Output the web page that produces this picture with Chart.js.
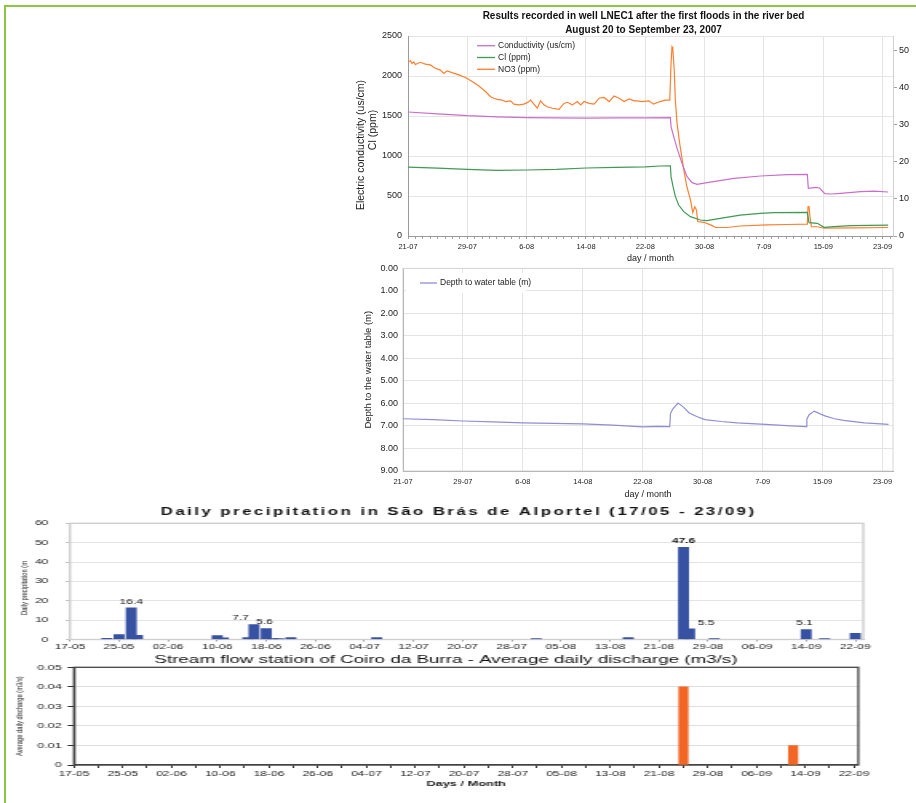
<!DOCTYPE html>
<html>
<head>
<meta charset="utf-8">
<script src="https://cdn.jsdelivr.net/npm/chart.js@4.4.1/dist/chart.umd.min.js"></script>
<style>
  html, body { margin: 0; padding: 0; background: #ffffff; width: 916px; height: 803px; overflow: hidden; position: relative; }
  #frame { position: absolute; left: 4px; top: 5px; width: 930px; height: 820px; border-top: 2px solid #8dc63f; border-left: 2px solid #8dc63f; }
  canvas { position: absolute; }
  #c1 { left: 340px; top: 0px; }
  #c2 { left: 340px; top: 258px; }
  #c3 { left: 8px; top: 495px; }
  #c4 { left: 8px; top: 650px; }
</style>
</head>
<body>
<div id="frame"></div>
<canvas id="c1" width="576" height="270"></canvas>
<canvas id="c2" width="576" height="245"></canvas>
<canvas id="c3" width="568" height="160" style="width:908px;height:160px"></canvas>
<canvas id="c4" width="568" height="150" style="width:908px;height:150px"></canvas>
<script>
// ---------------- DATA ----------------
// Well LNEC1 charts: x = days after 21-07-2007
const wellTickLabels = ['21-07', '29-07', '6-08', '14-08', '22-08', '30-08', '7-09', '15-09', '23-09'];

const condDays   = [0, 4, 8, 12, 16, 20, 24, 28, 32, 35.38, 35.47, 35.83, 36.28, 36.95, 37.63, 38.31, 38.98, 40.33, 43.94, 47.54, 51.14, 53.85, 53.98, 54.9, 55.5, 56.2, 57.0, 58.35, 61.05, 62.86, 64.75];
const condValues = [1550, 1527, 1504, 1490, 1480, 1476, 1474, 1476, 1477, 1480, 1367, 1242, 1096, 908, 742, 667, 646, 667, 721, 750, 767, 771, 596, 608, 600, 530, 525, 533, 554, 562, 550];

const clDays   = [0, 4, 8, 12, 16, 20, 24, 28, 32, 34, 35.38, 35.47, 35.74, 36.06, 36.5, 37.18, 38.08, 39.4, 40.3, 42.1, 44.8, 47.5, 49.3, 53.85, 54.07, 55.2, 56.1, 57.4, 59.7, 64.75];
const clValues = [862, 848, 833, 820, 825, 833, 850, 858, 865, 875, 877, 742, 617, 492, 387, 304, 242, 200, 192, 221, 262, 283, 292, 296, 167, 158, 108, 117, 129, 137];

const no3Days = [0, 0.32, 0.54, 0.77, 0.99, 1.67, 2.34, 3.02, 3.69, 4.37, 4.82, 5.27, 5.95, 6.85, 7.75, 8.65, 9.55, 10.45, 11.13, 11.58,
  12.03, 12.7, 13.15, 13.83, 14.28, 14.95, 15.63, 16.08, 16.53, 16.98, 17.43, 17.88, 18.33, 18.78, 19.46, 20.36, 21.04, 21.49, 22.16, 22.84,
  23.29, 23.74, 24.41, 25.09, 25.77, 26.44, 27.12, 27.79, 28.47, 29.14, 29.82, 30.5, 30.9, 31.5, 32.5, 33.1, 34.0, 34.7, 35.3, 35.47,
  35.6, 35.7, 35.9, 36.05, 36.28, 36.7, 37.2, 37.6, 38.1, 38.4, 38.67, 38.9, 39.07, 39.9, 40.8, 41.5, 43.0, 44.8, 48.4, 51.1,
  53.85, 53.94, 54.07, 54.2, 54.4, 55.2, 56.1, 60.2, 64.75];
const no3Values = [47.0, 47.3, 46.6, 47.0, 46.3, 46.9, 46.4, 46.2, 45.3, 44.8, 43.9, 44.6, 44.1, 43.5, 42.8, 41.7, 40.5, 39.0, 37.6, 37.2,
  36.9, 36.7, 36.3, 36.5, 35.6, 35.4, 35.6, 36.0, 36.7, 35.6, 34.5, 36.5, 35.4, 34.9, 34.5, 34.2, 35.8, 36.1, 35.4, 36.3,
  35.4, 36.3, 35.8, 35.6, 37.2, 37.4, 36.3, 37.8, 37.2, 36.3, 37.0, 36.5, 36.5, 36.3, 36.5, 35.6, 36.3, 36.7, 36.7, 46.6,
  51.1, 50.7, 44.8, 36.7, 30.4, 24.1, 17.8, 13.3, 9.7, 6.3, 7.9, 7.0, 3.9, 3.7, 3.0, 2.3, 2.3, 2.7, 3.0, 3.1,
  3.2, 7.9, 8.1, 5.2, 2.5, 2.5, 2.1, 2.2, 2.3];

const depthDays   = [0, 4, 8, 12, 16, 20, 24, 28, 32, 34, 35.6, 35.7, 36.0, 36.7, 37.4, 38.2, 39.2, 40.3, 42.5, 44.6, 48.4, 51.2, 53.8, 53.9, 54.2, 54.9, 55.6, 56.4, 57.6, 58.8, 61.6, 64.8];
const depthValues = [6.68, 6.72, 6.78, 6.82, 6.86, 6.88, 6.91, 6.96, 7.04, 7.02, 7.03, 6.45, 6.25, 5.98, 6.15, 6.42, 6.58, 6.72, 6.80, 6.86, 6.93, 6.98, 7.03, 6.70, 6.50, 6.34, 6.45, 6.56, 6.68, 6.75, 6.86, 6.93];

// Precipitation / discharge charts: dates dd-mm (2007), season starts 17-05
const seasonTickLabels = ['17-05', '25-05', '02-06', '10-06', '18-06', '26-06', '04-07', '12-07', '20-07', '28-07', '05-08', '13-08', '21-08', '29-08', '06-09', '14-09', '22-09'];

const precipDates  = ['23-05', '25-05', '27-05', '28-05', '10-06', '11-06', '15-06', '16-06', '18-06', '19-06', '20-06', '22-06', '06-07', '01-08', '16-08', '25-08', '26-08', '30-08', '14-09', '17-09', '22-09'];
const precipValues = [0.6, 2.6, 16.4, 2.2, 2.0, 0.8, 1.0, 7.7, 5.6, 0.5, 0.5, 1.0, 1.0, 0.5, 1.0, 47.6, 5.5, 0.5, 5.1, 0.5, 3.2];
const precipLabelled = ['27-05', '16-06', '18-06', '25-08', '26-08', '14-09'];

const dischargeDates  = ['25-08', '12-09'];
const dischargeValues = [0.04, 0.01];

// ---------------- STYLE ----------------
const FONT = "'Liberation Sans', Arial, Helvetica, sans-serif";
Chart.defaults.font.family = FONT;
Chart.defaults.color = '#222';
const GRID = '#e4e4e4';
const COND_C = '#c96fc9', CL_C = '#3f9a55', NO3_C = '#ff7f2e', DEPTH_C = '#8e8ed6';
const PRECIP_C = '#3852a3', DISCH_C = '#f26522';
const precipLabelStyle = {
  '27-05': { dx: 0 }, '16-06': { dx: -8.4 }, '18-06': { dx: -1 },
  '25-08': { dx: 0, bold: true }, '26-08': { dx: 10.3 }, '14-09': { dx: -1 }
};

// ---------------- HELPERS ----------------
const pts = (xs, ys) => xs.map((x, i) => ({ x: x, y: ys[i] }));
function seasonDay(ddmm) {
  const [d, m] = ddmm.split('-').map(Number);
  return (Date.UTC(2007, m - 1, d) - Date.UTC(2007, 4, 17)) / 86400000;
}

function makeTitle(lines, ys, font, dx, spacing) {
  return {
    id: 'ctitle',
    afterDraw(chart) {
      const { ctx, chartArea } = chart;
      ctx.save();
      ctx.fillStyle = '#111';
      ctx.font = font;
      ctx.textAlign = 'center';
      ctx.textBaseline = 'middle';
      if ('letterSpacing' in ctx) ctx.letterSpacing = spacing || '0px';
      const cx = (chartArea.left + chartArea.right) / 2 + dx;
      lines.forEach((t, i) => ctx.fillText(t, cx, ys[i]));
      ctx.restore();
    }
  };
}

// rotated (vertical) axis titles
function makeAxisTitles(items) {
  return {
    id: 'rtitles',
    afterDraw(chart) {
      const ctx = chart.ctx;
      items.forEach(it => {
        ctx.save();
        ctx.font = it.font;
        ctx.fillStyle = '#222';
        ctx.textAlign = 'center';
        ctx.textBaseline = 'middle';
        ctx.translate(it.x, it.y);
        ctx.rotate(-Math.PI / 2);
        ctx.fillText(it.text, 0, 0);
        ctx.restore();
      });
    }
  };
}

function makeLegend(items, x, ys, lineLen, box) {
  return {
    id: 'clegend',
    afterDraw(chart) {
      const ctx = chart.ctx;
      ctx.save();
      if (box) { ctx.fillStyle = '#fff'; ctx.fillRect(box[0], box[1], box[2], box[3]); }
      ctx.font = '8.5px ' + FONT;
      ctx.textBaseline = 'middle';
      ctx.textAlign = 'left';
      items.forEach((it, i) => {
        ctx.strokeStyle = it.color; ctx.lineWidth = 1.3;
        ctx.beginPath(); ctx.moveTo(x, ys[i]); ctx.lineTo(x + lineLen, ys[i]); ctx.stroke();
        ctx.fillStyle = '#222';
        ctx.fillText(it.label, x + lineLen + 3, ys[i]);
      });
      ctx.restore();
    }
  };
}

function makeFrame(color, width) {
  return {
    id: 'cframe',
    beforeDatasetsDraw(chart) {
      const { ctx, chartArea: a } = chart;
      ctx.save();
      ctx.strokeStyle = color; ctx.lineWidth = width;
      ctx.strokeRect(a.left, a.top, a.right - a.left, a.bottom - a.top);
      ctx.restore();
    }
  };
}

const precipLabelPlugin = {
  id: 'plabels',
  afterDatasetsDraw(chart) {
    const meta = chart.getDatasetMeta(0);
    const ctx = chart.ctx;
    ctx.save();
    ctx.textAlign = 'center';
    ctx.textBaseline = 'middle';
    ctx.fillStyle = '#111';
    precipLabelled.forEach(d => {
      const i = precipDates.indexOf(d);
      const el = meta.data[i];
      const st = precipLabelStyle[d] || {};
      ctx.font = (st.bold ? 'bold ' : '') + '7.5px ' + FONT;
      ctx.fillText(precipValues[i].toFixed(1), el.x + (st.dx || 0), el.y - 6.3);
    });
    ctx.restore();
  }
};

const base = {
  responsive: false, animation: false, devicePixelRatio: 1,
  plugins: { legend: { display: false }, tooltip: { enabled: false }, title: { display: false } }
};

// ---------------- CHART 1 ----------------
new Chart(document.getElementById('c1'), {
  type: 'line',
  data: {
    datasets: [
      { label: 'Conductivity (us/cm)', data: pts(condDays, condValues), borderColor: COND_C, yAxisID: 'y' },
      { label: 'Cl (ppm)', data: pts(clDays, clValues), borderColor: CL_C, yAxisID: 'y' },
      { label: 'NO3 (ppm)', data: pts(no3Days, no3Values), borderColor: NO3_C, yAxisID: 'y1' }
    ]
  },
  options: Object.assign({}, base, {
    elements: { point: { radius: 0 }, line: { borderWidth: 1.2, tension: 0, fill: false } },
    layout: { padding: { top: 36, right: 0, bottom: 0, left: 0 } },
    scales: {
      x: {
        type: 'linear', min: 0, max: 65.4, offset: false,
        afterFit: s => { s.height = 34; },
        ticks: { stepSize: 1, autoSkip: false, maxRotation: 0, minRotation: 0, includeBounds: false, padding: 3,
          font: { size: 7.5 }, color: '#222',
          callback: v => (v % 8 === 0 ? wellTickLabels[v / 8] : '') },
        grid: { color: c => (c.tick && c.tick.value % 8 === 0 ? GRID : 'rgba(0,0,0,0)'), tickColor: '#a0a0a0', tickLength: 3 },
        border: { color: '#9a9a9a' },
        title: { display: true, text: 'day / month', font: { size: 9 }, color: '#222', padding: { top: 0, bottom: 6 } }
      },
      y: {
        position: 'left', min: 0, max: 2500,
        afterFit: s => { s.width = 68; },
        ticks: { stepSize: 500, padding: 6, font: { size: 9 }, color: '#222', callback: v => String(v) },
        grid: { color: GRID, drawTicks: false },
        border: { color: '#9a9a9a' },
        title: { display: false }
      },
      y1: {
        position: 'right', min: 0, max: 54,
        afterFit: s => { s.width = 23; },
        ticks: { stepSize: 10, includeBounds: false, padding: 2, font: { size: 9 }, color: '#222' },
        grid: { drawOnChartArea: false, tickLength: 4, tickColor: '#a0a0a0' },
        border: { color: '#cfcfcf' }
      }
    }
  }),
  plugins: [
    makeTitle(['Results recorded in well LNEC1 after the first floods in the river bed', 'August 20 to September 23, 2007'], [16, 30], 'bold 10px ' + FONT, -7, '0px'),
    makeAxisTitles([
      { text: 'Electric conductivity (us/cm)', x: 21, y: 145, font: '10.5px ' + FONT },
      { text: 'Cl (ppm)', x: 33.6, y: 130, font: '10.5px ' + FONT }
    ]),
    makeLegend([{ label: 'Conductivity (us/cm)', color: COND_C }, { label: 'Cl (ppm)', color: CL_C }, { label: 'NO3 (ppm)', color: NO3_C }], 137, [45.7, 57.5, 69.3], 18, null)
  ]
});

// ---------------- CHART 2 ----------------
new Chart(document.getElementById('c2'), {
  type: 'line',
  data: {
    datasets: [
      { label: 'Depth to water table (m)', data: pts(depthDays, depthValues), borderColor: DEPTH_C }
    ]
  },
  options: Object.assign({}, base, {
    elements: { point: { radius: 0 }, line: { borderWidth: 1.2, tension: 0, fill: false } },
    layout: { padding: { top: 9, right: 23, bottom: 0, left: 0 } },
    scales: {
      x: {
        type: 'linear', min: 0, max: 65.4, offset: false,
        afterFit: s => { s.height = 32; },
        ticks: { stepSize: 8, autoSkip: false, maxRotation: 0, minRotation: 0, includeBounds: false, padding: 6,
          font: { size: 7.5 }, color: '#222', callback: v => wellTickLabels[v / 8] },
        grid: { color: GRID, drawTicks: false },
        border: { color: '#9a9a9a' },
        title: { display: true, text: 'day / month', font: { size: 9 }, color: '#222', padding: { top: 0, bottom: 2.6 } }
      },
      y: {
        min: 0, max: 9, reverse: true,
        afterFit: s => { s.width = 63; },
        ticks: { stepSize: 1, padding: 5, font: { size: 9 }, color: '#222', callback: v => v.toFixed(2) },
        grid: { color: GRID, drawTicks: false },
        border: { color: '#9a9a9a' },
        title: { display: true, text: 'Depth to the water table (m)', font: { size: 9.5 }, color: '#222', padding: { top: 22.3, bottom: 0 } }
      }
    }
  }),
  plugins: [
    makeFrame('#d4d4d4', 1),
    makeLegend([{ label: 'Depth to water table (m)', color: DEPTH_C }], 80, [25], 17, [66, 15, 120, 20])
  ]
});

// ---------------- CHART 3 (precipitation) ----------------
new Chart(document.getElementById('c3'), {
  type: 'bar',
  data: {
    datasets: [{
      label: 'Daily precipitation',
      data: pts(precipDates.map(seasonDay), precipValues),
      backgroundColor: PRECIP_C, borderWidth: 0, barThickness: 6.25
    }]
  },
  options: Object.assign({}, base, {
    layout: { padding: { top: 28.3, right: 33, bottom: 0, left: 0 } },
    scales: {
      x: {
        type: 'linear', min: 0, max: 129.3, offset: false,
        afterFit: s => { s.height = 14.7; },
        ticks: { stepSize: 8, autoSkip: false, maxRotation: 0, minRotation: 0, includeBounds: false, padding: 1,
          font: { size: 7.5 }, color: '#222', callback: v => seasonTickLabels[v / 8] },
        grid: { drawOnChartArea: false, offset: false, tickLength: 2, tickColor: '#999' },
        border: { color: '#9a9a9a' }
      },
      y: {
        min: 0, max: 60,
        afterFit: s => { s.width = 38.75; },
        ticks: { stepSize: 10, padding: 11, font: { size: 7.5 }, color: '#222' },
        grid: { color: GRID, tickLength: 2.5, tickColor: '#bbb' },
        border: { color: '#c8c8c8' },
        title: { display: false }
      }
    }
  }),
  plugins: [
    makeFrame('#cfcfcf', 1.4),
    precipLabelPlugin,
    makeAxisTitles([{ text: 'Daily precipitation (m', x: 10.3, y: 93, font: '5.8px ' + FONT }]),
    makeTitle(['Daily precipitation in São Brás de Alportel (17/05 - 23/09)'], [17], 'bold 10.5px ' + FONT, -5, '1.55px')
  ]
});

// ---------------- CHART 4 (discharge) ----------------
new Chart(document.getElementById('c4'), {
  type: 'bar',
  data: {
    datasets: [{
      label: 'Average daily discharge (m3/s)',
      data: pts(dischargeDates.map(seasonDay), dischargeValues),
      backgroundColor: DISCH_C, borderWidth: 0, barThickness: 5.6
    }]
  },
  options: Object.assign({}, base, {
    layout: { padding: { top: 17.3, right: 36.1, bottom: 0, left: 0 } },
    scales: {
      x: {
        type: 'linear', min: 0, max: 128.7, offset: false,
        afterFit: s => { s.height = 35; },
        ticks: { stepSize: 4, autoSkip: false, maxRotation: 0, minRotation: 0, includeBounds: false, padding: 1,
          font: { size: 7.5 }, color: '#222', callback: v => (v % 8 === 0 ? seasonTickLabels[v / 8] : '') },
        grid: { drawOnChartArea: false, offset: false, tickLength: 3, tickColor: '#333' },
        border: { color: '#444', width: 1.3 },
        title: { display: true, text: 'Days / Month', font: { size: 8, weight: 'bold' }, color: '#222', padding: { top: 0, bottom: 11.2 } }
      },
      y: {
        min: 0, max: 0.05,
        afterFit: s => { s.width = 41.25; },
        ticks: { stepSize: 0.01, padding: 3.5, font: { size: 8 }, color: '#222', callback: v => (v === 0 ? '0' : v.toFixed(2)) },
        grid: { color: c => (c.tick && c.tick.value > 0.001 && c.tick.value < 0.049 ? '#dedede' : 'rgba(0,0,0,0)'), tickLength: 4, tickColor: '#333' },
        border: { color: '#444', width: 1.3 },
        title: { display: true, text: 'Average daily discharge (m3/s)', font: { size: 5.8 }, color: '#222', padding: { top: 4, bottom: 0 } }
      }
    }
  }),
  plugins: [
    makeFrame('#444', 1.3),
    makeTitle(['Stream flow station of Coiro da Burra - Average daily discharge (m3/s)'], [10], '11.75px ' + FONT, -12.6, '0px')
  ]
});
</script>
</body>
</html>
